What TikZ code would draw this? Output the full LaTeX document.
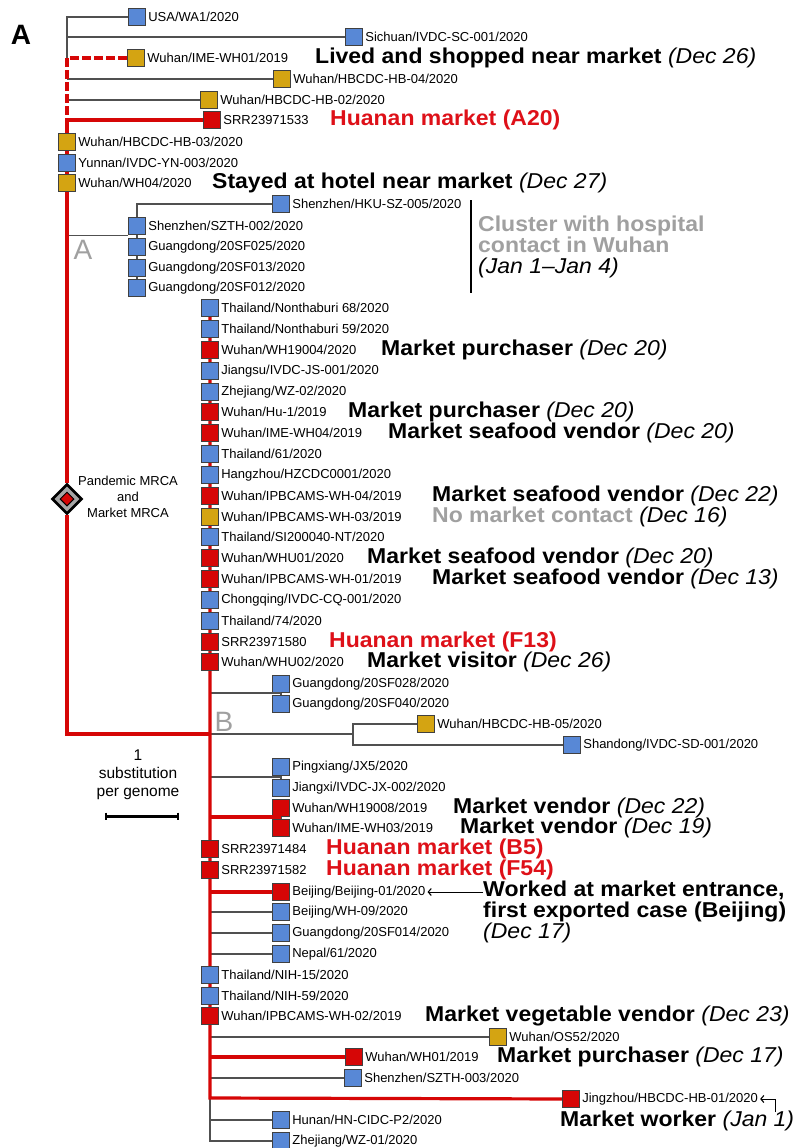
\documentclass[tikz,border=0pt]{standalone}
\usepackage{fontspec}
\setmainfont{Liberation Sans}
\newfontfamily\remarkfont[FakeStretch=1.07]{Liberation Sans}
\usetikzlibrary{positioning,shapes.geometric,arrows.meta}

\definecolor{tipblue}{RGB}{88,136,214}
\definecolor{tipgold}{RGB}{212,164,18}
\definecolor{tipred}{RGB}{214,6,6}
\definecolor{notered}{RGB}{222,16,24}
\definecolor{notegray}{RGB}{160,160,160}
\definecolor{branchgray}{RGB}{80,80,80}

\newcommand{\dated}[1]{{\mdseries\itshape (#1)}}

\begin{document}
\begin{tikzpicture}[x=1pt,y=-1pt,
    leaf/.style={draw=black!75,line width=0.8pt,minimum size=17.5pt,inner sep=0pt},
    blu/.style={leaf,fill=tipblue},
    gld/.style={leaf,fill=tipgold},
    rd/.style={leaf,fill=tipred},
    leaftext/.style={font=\fontsize{13}{13}\selectfont,inner sep=2pt},
    remark/.style={font=\remarkfont\fontsize{21.5}{21}\selectfont\bfseries,anchor=west,inner sep=0pt,align=left},
    clade/.style={font=\fontsize{28}{28}\selectfont,text=notegray,inner sep=0pt},
    pointer/.style={-{Straight Barb[length=3pt,width=7pt,line width=1.1pt]},line width=0.8pt},
    br/.style={draw=branchgray,line width=1.2pt},
    rbr/.style={draw=tipred,line width=3.2pt}]

    \fill[white] (0,0) rectangle (798,1148);
    \useasboundingbox (0,0) rectangle (798,1148);

    \node[font=\fontsize{28}{28}\selectfont\bfseries] (panel) at (21,35) {A};

    % basal tips
    \coordinate (root) at (67,17);
    \node[blu] (usa)   at (137,17)  {};
    \node[blu] (sc001) at (354,37)  {};
    \node[gld] (ime01) at (136,58)  {};
    \node[gld] (hb04)  at (282,79)  {};
    \node[gld] (hb02)  at (209,100) {};
    \node[rd]  (a20)   at (212,120) {};
    \node[gld] (hb03)  at (67,142)  {};
    \node[blu] (yn003) at (67,163)  {};
    \node[gld] (wh04)  at (67,183)  {};
    \node[blu] (sz005) at (281,204) {};
    \node[blu] (sz002) at (137,226) {};
    \node[blu] (sf025) at (137,247) {};
    \node[blu] (sf013) at (137,268) {};
    \node[blu] (sf012) at (137,288) {};

    \node[leaftext,right=0pt of usa]   (usa-t)   {USA/WA1/2020};
    \node[leaftext,right=0pt of sc001] (sc001-t) {Sichuan/IVDC-SC-001/2020};
    \node[leaftext,right=0pt of ime01] (ime01-t) {Wuhan/IME-WH01/2019};
    \node[leaftext,right=0pt of hb04]  (hb04-t)  {Wuhan/HBCDC-HB-04/2020};
    \node[leaftext,right=0pt of hb02]  (hb02-t)  {Wuhan/HBCDC-HB-02/2020};
    \node[leaftext,right=0pt of a20]   (a20-t)   {SRR23971533};
    \node[leaftext,right=0pt of hb03]  (hb03-t)  {Wuhan/HBCDC-HB-03/2020};
    \node[leaftext,right=0pt of yn003] (yn003-t) {Yunnan/IVDC-YN-003/2020};
    \node[leaftext,right=0pt of wh04]  (wh04-t)  {Wuhan/WH04/2020};
    \node[leaftext,right=0pt of sz005] (sz005-t) {Shenzhen/HKU-SZ-005/2020};
    \node[leaftext,right=0pt of sz002] (sz002-t) {Shenzhen/SZTH-002/2020};
    \node[leaftext,right=0pt of sf025] (sf025-t) {Guangdong/20SF025/2020};
    \node[leaftext,right=0pt of sf013] (sf013-t) {Guangdong/20SF013/2020};
    \node[leaftext,right=0pt of sf012] (sf012-t) {Guangdong/20SF012/2020};

    % lineage B tips
    \node[blu] (nt68)     at (210,308)  {};
    \node[blu] (nt59)     at (210,329)  {};
    \node[rd]  (wh19004)  at (210,350)  {};
    \node[blu] (js001)    at (210,371)  {};
    \node[blu] (wz02)     at (210,392)  {};
    \node[rd]  (hu1)      at (210,412)  {};
    \node[rd]  (ime04)    at (210,433)  {};
    \node[blu] (th61)     at (210,454)  {};
    \node[blu] (hz0001)   at (210,475)  {};
    \node[rd]  (ipb04)    at (210,496)  {};
    \node[gld] (ipb03)    at (210,517)  {};
    \node[blu] (si200040) at (210,537)  {};
    \node[rd]  (whu01)    at (210,558)  {};
    \node[rd]  (ipb01)    at (210,579)  {};
    \node[blu] (cq001)    at (210,600)  {};
    \node[blu] (th74)     at (210,621)  {};
    \node[rd]  (f13)      at (210,642)  {};
    \node[rd]  (whu02)    at (210,662)  {};
    \node[blu] (sf028)    at (281,684)  {};
    \node[blu] (sf040)    at (281,704)  {};
    \node[gld] (hb05)     at (426,724)  {};
    \node[blu] (sd001)    at (572,745)  {};
    \node[blu] (jx5)      at (281,767)  {};
    \node[blu] (jx002)    at (281,788)  {};
    \node[rd]  (wh19008)  at (281,808)  {};
    \node[rd]  (ime03)    at (281,828)  {};
    \node[rd]  (b5)       at (210,849)  {};
    \node[rd]  (f54)      at (210,870)  {};
    \node[rd]  (bj01)     at (281,892)  {};
    \node[blu] (wh09)     at (281,912)  {};
    \node[blu] (sf014)    at (281,933)  {};
    \node[blu] (np61)     at (281,954)  {};
    \node[blu] (nih15)    at (210,975)  {};
    \node[blu] (nih59)    at (210,996)  {};
    \node[rd]  (ipb02)    at (210,1016) {};
    \node[gld] (os52)     at (498,1037) {};
    \node[rd]  (wh01)     at (354,1057) {};
    \node[blu] (sz003)    at (353,1078) {};
    \node[rd]  (jz01)     at (571,1099) {};
    \node[blu] (hn)       at (281,1120) {};
    \node[blu] (wz01)     at (281,1141) {};

    \node[leaftext,right=0pt of nt68]     (nt68-t)     {Thailand/Nonthaburi 68/2020};
    \node[leaftext,right=0pt of nt59]     (nt59-t)     {Thailand/Nonthaburi 59/2020};
    \node[leaftext,right=0pt of wh19004]  (wh19004-t)  {Wuhan/WH19004/2020};
    \node[leaftext,right=0pt of js001]    (js001-t)    {Jiangsu/IVDC-JS-001/2020};
    \node[leaftext,right=0pt of wz02]     (wz02-t)     {Zhejiang/WZ-02/2020};
    \node[leaftext,right=0pt of hu1]      (hu1-t)      {Wuhan/Hu-1/2019};
    \node[leaftext,right=0pt of ime04]    (ime04-t)    {Wuhan/IME-WH04/2019};
    \node[leaftext,right=0pt of th61]     (th61-t)     {Thailand/61/2020};
    \node[leaftext,right=0pt of hz0001]   (hz0001-t)   {Hangzhou/HZCDC0001/2020};
    \node[leaftext,right=0pt of ipb04]    (ipb04-t)    {Wuhan/IPBCAMS-WH-04/2019};
    \node[leaftext,right=0pt of ipb03]    (ipb03-t)    {Wuhan/IPBCAMS-WH-03/2019};
    \node[leaftext,right=0pt of si200040] (si200040-t) {Thailand/SI200040-NT/2020};
    \node[leaftext,right=0pt of whu01]    (whu01-t)    {Wuhan/WHU01/2020};
    \node[leaftext,right=0pt of ipb01]    (ipb01-t)    {Wuhan/IPBCAMS-WH-01/2019};
    \node[leaftext,right=0pt of cq001]    (cq001-t)    {Chongqing/IVDC-CQ-001/2020};
    \node[leaftext,right=0pt of th74]     (th74-t)     {Thailand/74/2020};
    \node[leaftext,right=0pt of f13]      (f13-t)      {SRR23971580};
    \node[leaftext,right=0pt of whu02]    (whu02-t)    {Wuhan/WHU02/2020};
    \node[leaftext,right=0pt of sf028]    (sf028-t)    {Guangdong/20SF028/2020};
    \node[leaftext,right=0pt of sf040]    (sf040-t)    {Guangdong/20SF040/2020};
    \node[leaftext,right=0pt of hb05]     (hb05-t)     {Wuhan/HBCDC-HB-05/2020};
    \node[leaftext,right=0pt of sd001]    (sd001-t)    {Shandong/IVDC-SD-001/2020};
    \node[leaftext,right=0pt of jx5]      (jx5-t)      {Pingxiang/JX5/2020};
    \node[leaftext,right=0pt of jx002]    (jx002-t)    {Jiangxi/IVDC-JX-002/2020};
    \node[leaftext,right=0pt of wh19008]  (wh19008-t)  {Wuhan/WH19008/2019};
    \node[leaftext,right=0pt of ime03]    (ime03-t)    {Wuhan/IME-WH03/2019};
    \node[leaftext,right=0pt of b5]       (b5-t)       {SRR23971484};
    \node[leaftext,right=0pt of f54]      (f54-t)      {SRR23971582};
    \node[leaftext,right=0pt of bj01]     (bj01-t)     {Beijing/Beijing-01/2020};
    \node[leaftext,right=0pt of wh09]     (wh09-t)     {Beijing/WH-09/2020};
    \node[leaftext,right=0pt of sf014]    (sf014-t)    {Guangdong/20SF014/2020};
    \node[leaftext,right=0pt of np61]     (np61-t)     {Nepal/61/2020};
    \node[leaftext,right=0pt of nih15]    (nih15-t)    {Thailand/NIH-15/2020};
    \node[leaftext,right=0pt of nih59]    (nih59-t)    {Thailand/NIH-59/2020};
    \node[leaftext,right=0pt of ipb02]    (ipb02-t)    {Wuhan/IPBCAMS-WH-02/2019};
    \node[leaftext,right=0pt of os52]     (os52-t)     {Wuhan/OS52/2020};
    \node[leaftext,right=0pt of wh01]     (wh01-t)     {Wuhan/WH01/2019};
    \node[leaftext,right=0pt of sz003]    (sz003-t)    {Shenzhen/SZTH-003/2020};
    \node[leaftext,right=0pt of jz01]     (jz01-t)     {Jingzhou/HBCDC-HB-01/2020};
    \node[leaftext,right=0pt of hn]       (hn-t)       {Hunan/HN-CIDC-P2/2020};
    \node[leaftext,right=0pt of wz01]     (wz01-t)     {Zhejiang/WZ-01/2020};

    % MRCA
    \node[diamond,aspect=1,minimum size=30pt,inner sep=0pt,draw=black,line width=2.6pt,fill=black!35] (mrca) at (67,499) {};
    \node[diamond,aspect=1,minimum size=14pt,inner sep=0pt,draw=black,line width=1pt,fill=tipred] (mrca-core) at (mrca) {};
    \node[font=\fontsize{13}{16}\selectfont,align=center] (mrca-t) at (128,497) {Pandemic MRCA\\and\\Market MRCA};

    % branches
    \coordinate (bfork)  at (210,734);
    \coordinate (sfpair) at (281,693);
    \coordinate (hbfork) at (353,734);
    \coordinate (jxpair) at (281,777);
    \coordinate (vdpair) at (281,817);
    \coordinate (jzfork) at (210,1098);

    \draw[br] (usa) -| (root |- ime01);
    \draw[br] (root |- sc001) -- (sc001);
    \draw[br] (root |- hb04) -- (hb04);
    \draw[br] (root |- hb02) -- (hb02);
    \draw[br] (root |- sz002.south) -- (sz002.south west);
    \draw[br] (sz002) |- (sz005);
    \draw[br] (sz002) -- (sf025) -- (sf013) -- (sf012);
    \draw[rbr,dash pattern=on 9pt off 3pt] (ime01) -| (root |- a20);
    \draw[rbr] (a20) -| (hb03);
    \draw[rbr] (hb03) -- (yn003) -- (wh04) -- (mrca);
    \draw[rbr] (mrca) |- (bfork);

    \draw[br] (bfork |- sfpair) -- (sfpair);
    \draw[br] (sf028) -- (sf040);
    \draw[br] (bfork) -- (hbfork);
    \draw[br] (hb05) -| (hbfork) |- (sd001);
    \draw[br] (bfork |- jxpair) -- (jxpair);
    \draw[br] (jx5) -- (jx002);
    \draw[br] (wh19008) -- (ime03);
    \draw[br] (bfork |- wh09) -- (wh09);
    \draw[br] (bfork |- sf014) -- (sf014);
    \draw[br] (bfork |- np61) -- (np61);
    \draw[br] (bfork |- os52) -- (os52);
    \draw[br] (bfork |- sz003) -- (sz003);
    \draw[br] (jzfork) |- (hn);
    \draw[br] (jzfork) |- (wz01);
    \draw[rbr] (nt68) -- (nt59) -- (wh19004) -- (js001) -- (wz02) -- (hu1) -- (ime04) -- (th61) -- (hz0001) -- (ipb04) -- (ipb03) -- (si200040) -- (whu01) -- (ipb01) -- (cq001) -- (th74) -- (f13) -- (whu02) -- (b5) -- (f54) -- (nih15) -- (nih59) -- (ipb02) -- (jzfork) -- (jz01);
    \draw[rbr] (bfork |- vdpair) -- (vdpair);
    \draw[rbr] (bfork |- bj01) -- (bj01);
    \draw[rbr] (bfork |- wh01) -- (wh01);

    % clade letters
    \node[clade] (clade-a) at (83,250)  {A};
    \node[clade] (clade-b) at (224,722) {B};

    % notes
    \node[remark] (ime01-n)  at (315,58)  {Lived and shopped near market \dated{Dec 26}};
    \node[remark,text=notered] (a20-n) at (330,120) {Huanan market (A20)};
    \node[remark] (wh04-n)   at (212,183) {Stayed at hotel near market \dated{Dec 27}};
    \node[remark] (cluster-n) at (478,247) {\textcolor{notegray}{Cluster with hospital}\\\textcolor{notegray}{contact in Wuhan}\\\dated{Jan 1–Jan 4}};
    \coordinate (cl-top) at (471,200);
    \coordinate (cl-bot) at (471,293);
    \draw[line width=2pt] (cl-top) -- (cl-bot);

    \node[remark] (wh19004-n) at (381,350) {Market purchaser \dated{Dec 20}};
    \node[remark] (hu1-n)     at (348,412) {Market purchaser \dated{Dec 20}};
    \node[remark] (ime04-n)   at (388,433) {Market seafood vendor \dated{Dec 20}};
    \node[remark] (ipb04-n)   at (432,496) {Market seafood vendor \dated{Dec 22}};
    \node[remark] (ipb03-n)   at (432,517) {\textcolor{notegray}{No market contact} \dated{Dec 16}};
    \node[remark] (whu01-n)   at (367,558) {Market seafood vendor \dated{Dec 20}};
    \node[remark] (ipb01-n)   at (432,579) {Market seafood vendor \dated{Dec 13}};
    \node[remark,text=notered] (f13-n) at (329,642) {Huanan market (F13)};
    \node[remark] (whu02-n)   at (367,662) {Market visitor \dated{Dec 26}};
    \node[remark] (wh19008-n) at (453,808) {Market vendor \dated{Dec 22}};
    \node[remark] (ime03-n)   at (460,828) {Market vendor \dated{Dec 19}};
    \node[remark,text=notered] (b5-n)  at (326,849) {Huanan market (B5)};
    \node[remark,text=notered] (f54-n) at (326,870) {Huanan market (F54)};
    \node[remark] (bj01-n)    at (483,912) {Worked at market entrance,\\first exported case (Beijing)\\\dated{Dec 17}};
    \draw[pointer] (bj01-t -| bj01-n.west) -- (bj01-t);
    \node[remark] (ipb02-n)   at (425,1016) {Market vegetable vendor \dated{Dec 23}};
    \node[remark] (wh01-n)    at (497,1057) {Market purchaser \dated{Dec 17}};
    \node[remark] (jz01-n)    at (560,1121) {Market worker \dated{Jan 1}};
    \coordinate (hook) at (775,1112);
    \draw[pointer] (hook) |- (jz01-t);

    % scale
    \node[font=\fontsize{15.5}{18}\selectfont,align=center] (scale-t) at (138,775) {1\\substitution\\per genome};
    \coordinate (sb-l) at (106,816);
    \coordinate (sb-r) at (178,816);
    \draw[line width=3pt] (sb-l) -- (sb-r);
    \draw[line width=1.2pt] ([yshift=3.5pt]sb-l) -- ([yshift=-3.5pt]sb-l);
    \draw[line width=1.2pt] ([yshift=3.5pt]sb-r) -- ([yshift=-3.5pt]sb-r);

\end{tikzpicture}
\end{document}
